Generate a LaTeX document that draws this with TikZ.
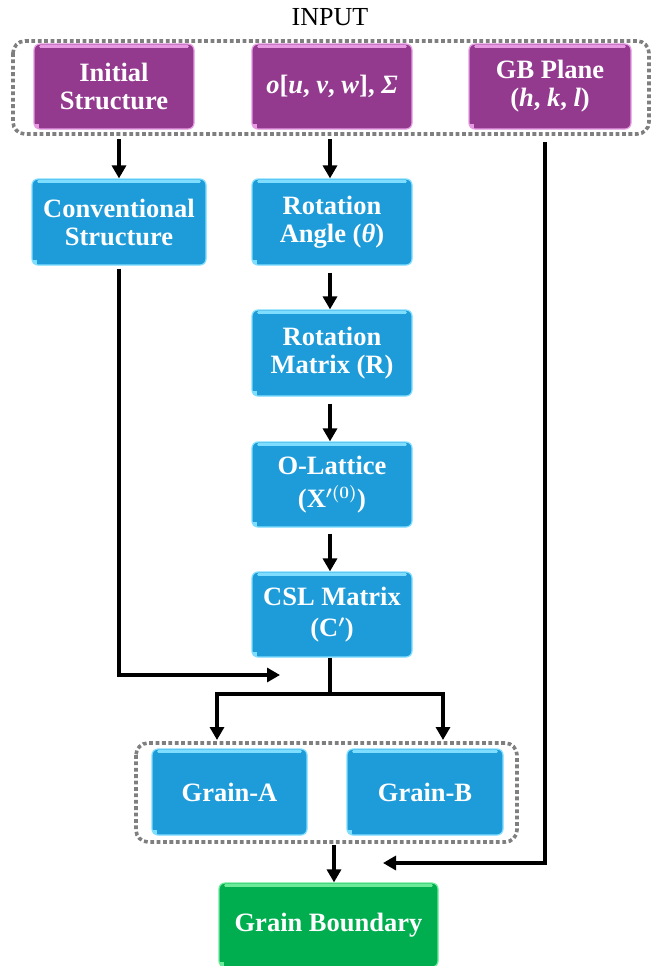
\documentclass[tikz,border=0pt]{standalone}
\usepackage{fontspec}
\setmainfont{Liberation Serif}
\usetikzlibrary{arrows.meta,positioning,fit}
\definecolor{purp}{HTML}{933A8F}
\definecolor{purpL}{HTML}{E79AE2}
\definecolor{blu}{HTML}{1E9CD9}
\definecolor{bluL}{HTML}{7FDDFF}
\definecolor{grn}{HTML}{00AE4F}
\definecolor{grnL}{HTML}{6BEA9A}
\definecolor{grp}{HTML}{7F7F7F}
\newcommand{\glossbox}[2]{%
  \draw[#2,line width=2.4pt,line cap=round] ([xshift=7pt,yshift=-3pt]#1.north west) -- ([xshift=-7pt,yshift=-3pt]#1.north east);
  \fill[#2] ([xshift=2pt,yshift=2pt]#1.south west) rectangle ([xshift=6pt,yshift=6pt]#1.south west);
}
\tikzset{
  boxbase/.style={rounded corners=6pt, inner sep=0pt, text=white, align=center,
    font=\fontsize{26.5}{28}\selectfont\bfseries\boldmath, line width=1.2pt},
  pbox/.style={boxbase, fill=purp, draw=purpL, minimum width=160pt, minimum height=85pt},
  bbox/.style={boxbase, fill=blu, draw=bluL, minimum width=160pt, minimum height=86pt},
  gbox/.style={boxbase, fill=grn, draw=grnL, minimum width=219pt, minimum height=84pt},
  grpbox/.style={draw=grp, line width=3.6pt, dash pattern=on 3.8pt off 2.6pt, rounded corners=12pt},
  arr/.style={draw=black, line width=3.2pt, -{Triangle[width=14pt,length=13pt]}},
  plain/.style={draw=black, line width=3.2pt}
}
\begin{document}
\begin{tikzpicture}[x=1pt,y=-1pt]
\useasboundingbox (0,0) rectangle (651,966);

\node[font=\fontsize{26}{28}\selectfont] (inp) at (330,17) {INPUT};

% top group frame
\draw[grpbox] (13,41) rectangle (649,134);

\node[pbox] (init) at (114,86.5) {Initial\\Structure};
\node[pbox] (ouvw) at (332,86.5) {\textit{o}[\textit{u}, \textit{v}, \textit{w}], \textit{Σ}};
\node[pbox, minimum width=162pt] (gbp) at (550,86.5) {GB Plane\\(\textit{h}, \textit{k}, \textit{l})};

\node[bbox, minimum width=174pt] (conv) at (119,222) {Conventional\\Structure};
\node[bbox] (rang) at (332,222) {Rotation\\Angle (\textit{θ})};
\node[bbox] (rmat) at (332,353) {Rotation\\Matrix (R)};
\node[bbox, minimum height=85pt] (olat) at (332,484.5) {O-Lattice\\[5pt](X$'^{(0)}$)};
\node[bbox, minimum height=85pt] (csl) at (332,614.5) {CSL Matrix\\[3pt](C$'$)};

% bottom group frame
\draw[grpbox] (136,743) rectangle (517,842);
\node[bbox, minimum width=155pt] (ga) at (229.5,792) {Grain-A};
\node[bbox, minimum width=156pt] (gbb) at (425,792) {Grain-B};

\node[gbox] (gbd) at (328.5,925) {Grain Boundary};

\foreach \n in {init,ouvw,gbp} {\glossbox{\n}{purpL}}
\foreach \n in {conv,rang,rmat,olat,csl,ga,gbb} {\glossbox{\n}{bluL}}
\glossbox{gbd}{grnL}

% connectors
\coordinate (s1) at (119,139);
\coordinate (s2) at (330,139);
\draw[arr] (s1) -- (conv.north);
\draw[arr] (s2) -- (rang.north -| s2);
\draw[arr] ([yshift=-7pt]rang.south -| s2) -- (rmat.north -| s2);
\draw[arr] ([yshift=-7pt]rmat.south -| s2) -- (olat.north -| s2);
\draw[arr] ([yshift=-6pt]olat.south -| s2) -- (csl.north -| s2);

\coordinate (convEnd) at (280,675);
\draw[arr] ([yshift=-3pt]conv.south -| s1) |- (convEnd);

\coordinate (split) at (330,694);
\coordinate (tA) at (217,740);
\coordinate (tB) at (443,740);
\draw[plain] (csl.south -| split) -- (split);
\draw[arr] (split) -| (tA);
\draw[arr] (split) -| (tB);

\coordinate (dn) at (334,845);
\draw[arr] (dn) -- (gbd.north -| dn);

\coordinate (gbs) at (545,142);
\coordinate (gbe) at (383,863);
\draw[arr] (gbs) |- (gbe);
\end{tikzpicture}
\end{document}
